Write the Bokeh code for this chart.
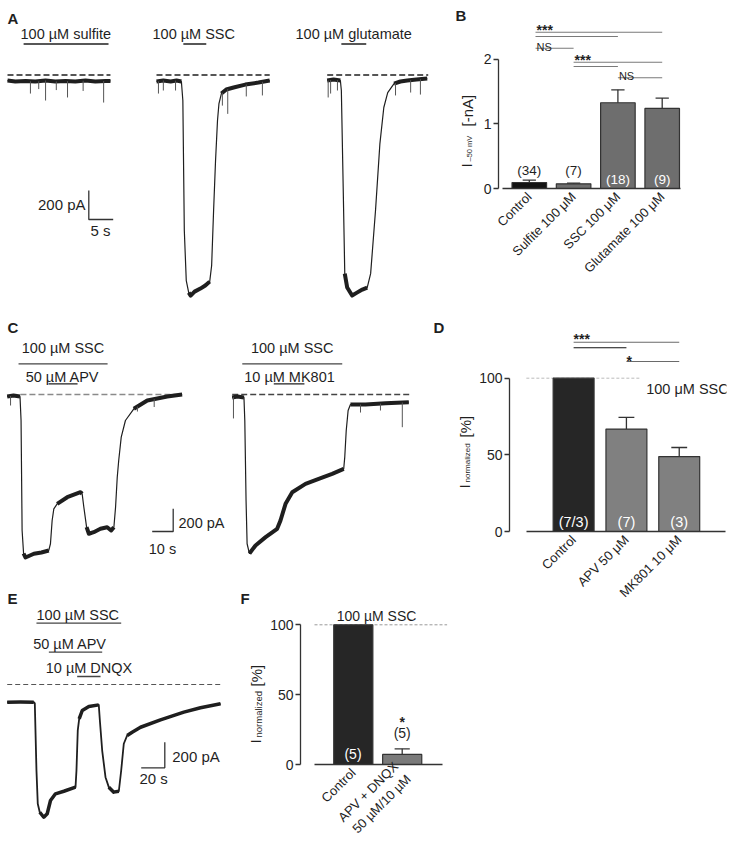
import math
import numpy as np
from bokeh.plotting import figure
from bokeh.models import Range1d, Label, FixedTicker
from bokeh.layouts import row, column
from bokeh.embed import file_html
from bokeh.resources import INLINE

FONT = "Liberation Sans"
INK = "#1f1f1f"
AX = "#333333"

# ======================= DATA =======================
# Panel A: whole-cell currents at -50 mV (time in s from sweep start, current in pA vs. holding level)
a_sulfite_t = [0, 1.6, 3.7, 5.7, 7.8, 9.8, 11.9, 13.9, 16.0, 18.0, 20.1, 21.1]
a_sulfite_i = [-38, -45, -41, -45, -38, -45, -41, -45, -38, -45, -41, -41]
a_sulfite_spike_t = [4.7, 6.4, 7.8, 10.0, 12.3, 15.5, 19.7]
a_sulfite_spike_i = [-128, -97, -176, -104, -155, -110, -190]

a_ssc_t = [0, 1.4, 2.9, 4.1, 5.1, 5.4, 5.7, 6.1, 6.6, 7.0, 7.8, 9.0, 10.0, 10.9, 11.3,
           11.7, 12.1, 12.5, 12.8, 13.3, 14.3, 15.8, 18.2, 20.9, 23.2]
a_ssc_i = [-45, -38, -45, -38, -45, -176, -1073, -1418, -1501, -1521, -1494, -1473, -1452,
           -1425, -1314, -935, -590, -314, -197, -128, -100, -86, -66, -52, -38]
a_ssc_spike_t = [0.4, 1.4, 3.9, 13.5, 14.6, 18.4, 21.7]
a_ssc_spike_i = [-128, -107, -107, -211, -268, -148, -141]

a_glu_t = [0, 1.3, 2.7, 2.9, 3.3, 3.6, 4.1, 5.1, 6.1, 7.2, 8.2, 8.9, 9.9, 10.8, 11.6,
           12.4, 13.7, 15.0, 16.4, 18.3, 20.5]
a_glu_i = [-38, -31, -38, -107, -818, -1370, -1466, -1521, -1501, -1480, -1466, -1370,
           -935, -473, -224, -121, -59, -45, -38, -31, -24]
a_glu_spike_t = [0.2, 0.7, 2.1, 14.0, 17.1, 19.1]
a_glu_spike_i = [-155, -128, -107, -141, -121, -135]

a_labels = ["100 \u00b5M sulfite", "100 \u00b5M SSC", "100 \u00b5M glutamate"]
a_app = [(3.3, 20.7), (5.5, 10.2), (2.9, 8.0)]          # application windows (s)
a_base = [(0, 21.1), (0, 23.2), (0, 20.7)]               # dashed zero-current lines (s)

# Panel B: mean current at -50 mV (-nA)
b_cats = ["Control", "Sulfite 100 \u03bcM", "SSC 100 \u03bcM", "Glutamate 100 \u03bcM"]
b_mean = [0.093, 0.073, 1.325, 1.237]
b_sem = [0.037, 0.010, 0.200, 0.160]
b_n = ["(34)", "(7)", "(18)", "(9)"]
b_sig_pairs = [(0, 3), (0, 2), (0, 1), (1, 3), (1, 2), (2, 3)]
b_sig_text = ["***", "", "NS", "***", "", "NS"]

# Panel C: SSC + APV and SSC + MK801 sweeps
c_apv_t = [0, 3.0, 6.1, 6.6, 7.1, 7.8, 8.7, 12.7, 16.3, 19.8, 20.6, 21.4, 22.2, 23.8, 28.6,
           34.9, 35.7, 36.5, 37.8, 38.9, 41.2, 44.4, 47.6, 49.5, 50.8, 51.6, 52.4, 53.1,
           54.3, 56.3, 60.3, 66.7, 76.2, 83.3]
c_apv_i = [-18, -9, -18, -229, -1198, -1401, -1436, -1403, -1392, -1374, -1315, -1110, -1007,
           -963, -905, -861, -875, -993, -1169, -1227, -1213, -1183, -1169, -1198, -1169,
           -993, -729, -581, -376, -229, -126, -53, -18, 0]
c_apv_spike_t = [1.6, 62.0, 70.0]
c_apv_spike_i = [-97, -150, -110]

c_mk_t = [0, 2.5, 5.6, 6.0, 6.6, 7.1, 8.2, 11.1, 15.9, 21.4, 23.0, 25.4, 28.6, 34.9, 41.2,
          47.6, 53.1, 53.6, 54.3, 55.2, 56.3, 63.5, 73.0, 84.1]
c_mk_i = [-26, -18, -26, -229, -934, -1315, -1401, -1330, -1257, -1183, -1110, -963, -861,
          -787, -743, -699, -655, -552, -317, -141, -88, -88, -77, -68]
c_mk_spike_t = [0.6, 61.1, 70.6, 81.0]
c_mk_spike_i = [-211, -159, -141, -288]

c_labels = [("100 \u00b5M SSC", "50 \u00b5M APV"), ("100 \u00b5M SSC", "10 \u00b5M MK801")]
c_app = [((5.4, 47.8), (19.7, 33.5)), ((4.8, 52.4), (19.8, 34.4))]
c_base = [(6.3, 83.3), (0, 84.9)]

# Panel D: normalized SSC current (%)
d_cats = ["Control", "APV 50 \u03bcM", "MK801 10 \u03bcM"]
d_mean = [100, 66.8, 48.9]
d_sem = [0, 7.6, 5.9]
d_n = ["(7/3)", "(7)", "(3)"]

# Panel E: SSC + APV + DNQX sweep
e_t = [0, 11.3, 22.5, 23.4, 24.8, 25.9, 27.6, 31.0, 33.9, 36.7, 40.9, 48.0, 57.9, 58.7,
       59.8, 61.0, 63.6, 69.2, 77.6, 78.5, 80.5, 83.3, 86.1, 90.3, 94.6, 96.6, 98.8, 101.7,
       105.9, 113.0, 129.9, 149.7, 163.8, 180.8]
e_i = [-138, -137, -138, -148, -672, -932, -998, -1037, -1010, -906, -854, -834, -802, -672,
       -359, -268, -203, -172, -159, -277, -516, -724, -802, -841, -834, -672, -463, -398,
       -373, -334, -276, -216, -182, -151]
e_labels = ["100 \u00b5M SSC", "50 \u00b5M APV", "10 \u00b5M DNQX"]
e_app = [(24.8, 96.6), (35.3, 80.5), (59.3, 79.1)]
e_base = (0, 180.8)

# Panel F: normalized SSC current (%)
f_cats = ["Control", "APV + DNQX\n50 \u00b5M/10 \u00b5M"]
f_mean = [100, 7.2]
f_sem = [0, 4.0]
f_n = ["(5)", "(5)"]


# ======================= LAYOUT HELPERS =======================
class Geo:
    """Maps reference-pixel positions to a figure's data units."""
    def __init__(self, box, frame, xr0, xpx, yr0, ypx):
        self.box, self.frame = box, frame
        self.xr0, self.xpx, self.yr0, self.ypx = xr0, xpx, yr0, ypx

    def dx(self, rx):
        return (rx - self.xr0) / self.xpx

    def dy(self, ry):
        return (self.yr0 - ry) / self.ypx


def make_fig(g, axes=False):
    bl, bt, br, bb = g.box
    fl, ft, fr, fb = g.frame
    kw = dict(width=br - bl, height=bb - bt, output_backend="svg", toolbar_location=None,
              x_range=Range1d(g.dx(fl), g.dx(fr)), y_range=Range1d(g.dy(fb), g.dy(ft)),
              min_border_left=fl - bl, min_border_right=br - fr,
              min_border_top=ft - bt, min_border_bottom=bb - fb,
              background_fill_color="white", border_fill_color="white",
              outline_line_color=None, frame_align=False)
    if not axes:
        kw.update(x_axis_type=None, y_axis_type=None)
    p = figure(**kw)
    p.grid.visible = False
    return p


def txt(p, g, rx, ry, s, size=14.5, align="left", base="middle", color=INK,
        bold=False, angle=0.0):
    p.add_layout(Label(x=g.dx(rx), y=g.dy(ry), text=s, text_font=FONT,
                       text_font_size=f"{size}px", text_align=align, text_baseline=base,
                       text_color=color, text_font_style="bold" if bold else "normal",
                       angle=angle))


def trace(p, t, i, t0, noisy, sp_t, sp_i, lw, band, color=INK):
    x = [v + t0 for v in t]
    for a, b in noisy:
        p.line(x[a:b + 1], i[a:b + 1], line_color=color, line_width=band, line_join="round")
    p.line(x, i, line_color=color, line_width=lw, line_join="round")
    if sp_t:
        base = list(np.interp(sp_t, t, i))
        xs = [v + t0 for v in sp_t]
        p.segment(x0=xs, y0=base, x1=xs, y1=sp_i, line_color="#555555", line_width=1)


def hbar(p, g, t_from, t_to, t0, ry, lw=1.5, color=INK):
    p.segment(x0=[t_from + t0], y0=[g.dy(ry)], x1=[t_to + t0], y1=[g.dy(ry)],
              line_color=color, line_width=lw)


def zero_line(p, t_from, t_to, t0, color, dash="6 3", lw=1.4):
    p.segment(x0=[t_from + t0], y0=[0], x1=[t_to + t0], y1=[0],
              line_color=color, line_width=lw, line_dash=dash)


def scalebar(p, g, crx, cry, t_len, i_len, hdir):
    cx, cy = g.dx(crx), g.dy(cry)
    p.line([cx + hdir * t_len, cx, cx], [cy, cy, cy + i_len], line_color=AX, line_width=1.3)


def bar_axes(p, labels, yticks, ybounds, xbounds, lab_size="13px"):
    yax = p.yaxis[0]
    yax.ticker = FixedTicker(ticks=yticks)
    yax.bounds = ybounds
    yax.axis_line_color = AX
    yax.axis_line_width = 1.3
    yax.major_tick_line_color = AX
    yax.major_tick_line_width = 1.3
    yax.major_tick_in = 0
    yax.major_tick_out = 5
    yax.minor_tick_line_color = None
    yax.major_label_text_font = FONT
    yax.major_label_text_font_size = "14px"
    yax.major_label_text_color = INK
    yax.major_label_standoff = 2
    xax = p.xaxis[0]
    ticks = list(range(len(labels)))
    xax.ticker = FixedTicker(ticks=ticks)
    xax.major_label_overrides = {k: v for k, v in zip(ticks, labels)}
    xax.bounds = xbounds
    xax.axis_line_color = AX
    xax.axis_line_width = 1.3
    xax.major_tick_line_color = None
    xax.major_tick_in = 0
    xax.major_tick_out = 0
    xax.minor_tick_line_color = None
    xax.major_label_orientation = math.pi / 4
    xax.major_label_standoff = 6
    xax.major_label_text_font = FONT
    xax.major_label_text_font_size = lab_size
    xax.major_label_text_color = INK


def bars(p, mean, sem, colors, width, cap):
    xs = list(range(len(mean)))
    p.vbar(x=xs, top=mean, bottom=0, width=width, fill_color=colors,
           line_color=AX, line_width=1.2)
    ex = [x for x, s in zip(xs, sem) if s > 0]
    lo = [m for m, s in zip(mean, sem) if s > 0]
    hi = [m + s for m, s in zip(mean, sem) if s > 0]
    p.segment(x0=ex, y0=lo, x1=ex, y1=hi, line_color=AX, line_width=1.3)
    p.segment(x0=[x - cap for x in ex], y0=hi, x1=[x + cap for x in ex], y1=hi,
              line_color=AX, line_width=1.3)


def ylabel(p, g, rx, ry_bottom, sub, tail, sub_size, gap):
    # rotated "I_sub [unit]" label, reading bottom to top
    txt(p, g, rx, ry_bottom, "I", size=15, base="alphabetic", angle=math.pi / 2)
    txt(p, g, rx + 2.5, ry_bottom - 6, sub, size=sub_size, base="alphabetic", angle=math.pi / 2)
    txt(p, g, rx + 1, ry_bottom - gap, tail, size=15, base="alphabetic", angle=math.pi / 2)


# ======================= PANEL A =======================
gA = Geo(box=(0, 0, 478, 312), frame=(0, 0, 478, 312), xr0=7, xpx=4.88, yr0=74.5, ypx=0.145)
pA = make_fig(gA)
a_offsets = [0, (156 - 7) / 4.88, (326.7 - 7) / 4.88]
a_traces = [
    (a_sulfite_t, a_sulfite_i, [(0, 11)], a_sulfite_spike_t, a_sulfite_spike_i),
    (a_ssc_t, a_ssc_i, [(0, 4), (8, 13), (19, 24)], a_ssc_spike_t, a_ssc_spike_i),
    (a_glu_t, a_glu_i, [(0, 2), (5, 10), (16, 20)], a_glu_spike_t, a_glu_spike_i),
]
a_text_left = [20, 152, 295]
for k, (t, i, nz, st, si) in enumerate(a_traces):
    t0 = a_offsets[k]
    zero_line(pA, a_base[k][0], a_base[k][1], t0, INK, "6 3", 1.5)
    trace(pA, t, i, t0, nz, st, si, 1.2, 4)
    hbar(pA, gA, a_app[k][0], a_app[k][1], t0, 43.5)
    txt(pA, gA, a_text_left[k], 33, a_labels[k])
scalebar(pA, gA, 88.3, 219, 5, 200, +1)
txt(pA, gA, 85, 204, "200 pA", size=15, align="right")
txt(pA, gA, 90, 230, "5 s", size=15)
txt(pA, gA, 7, 17.5, "A", size=15, bold=True)
# panel B letter and y-axis title live in the free margin left of panel B
txt(pA, gA, 455, 15, "B", size=15, bold=True)
ylabel(pA, gA, 466, 167, "\u201350 mV", "[-nA]", 7.5, 41)

# ======================= PANEL B =======================
gB = Geo(box=(478, 0, 740, 312), frame=(498, 20, 692, 188), xr0=528.8, xpx=44.3, yr0=188, ypx=64.7)
pB = make_fig(gB, axes=True)
bar_axes(pB, b_cats, [0, 1, 2], (0, 2), (gB.dx(501.7), gB.dx(680)))
bars(pB, b_mean, b_sem, ["#141414", "#6e6e6e", "#6e6e6e", "#6e6e6e"], 0.78, 0.15)
b_sig_y = [31.7, 36, 47.7, 61.7, 66, 77.3]
for (a, b), s, ry in zip(b_sig_pairs, b_sig_text, b_sig_y):
    x0 = a + (0.14 if a == 0 else 0)
    pB.segment(x0=[x0], y0=[gB.dy(ry)], x1=[b], y1=[gB.dy(ry)], line_color="#7a7a7a", line_width=1.1)
    if s == "***":
        txt(pB, gB, gB.xr0 + x0 * gB.xpx + 1, ry - 2.5, s, size=14, bold=True, base="alphabetic")
    elif s == "NS":
        txt(pB, gB, gB.xr0 + x0 * gB.xpx + 1, ry - 1.5, s, size=11, base="alphabetic")
for k, s in enumerate(b_n):
    inside = b_mean[k] > 0.5
    txt(pB, gB, gB.xr0 + k * gB.xpx, 178.5 if inside else 170, s, size=13.5, align="center",
        color="white" if inside else INK)

# ======================= PANEL C =======================
gC = Geo(box=(0, 312, 476, 588), frame=(0, 312, 476, 588), xr0=6.7, xpx=2.1, yr0=394, ypx=0.1135)
pC = make_fig(gC)
c_offsets = [0, (231.7 - 6.7) / 2.1]
c_traces = [
    (c_apv_t, c_apv_i, [(0, 2), (5, 9), (13, 16), (18, 24), (30, 33)], c_apv_spike_t, c_apv_spike_i),
    (c_mk_t, c_mk_i, [(0, 2), (6, 16), (20, 23)], c_mk_spike_t, c_mk_spike_i),
]
c_base_col = ["#8a8a8a", "#444444"]
c_text_cx = [(62.5, 62), (291.7, 289)]
for k, (t, i, nz, st, si) in enumerate(c_traces):
    t0 = c_offsets[k]
    zero_line(pC, c_base[k][0], c_base[k][1], t0, c_base_col[k], "6 3", 1.3)
    trace(pC, t, i, t0, nz, st, si, 1.2, 4)
    hbar(pC, gC, c_app[k][0][0], c_app[k][0][1], t0, 363.3, lw=1.3, color="#444444")
    hbar(pC, gC, c_app[k][1][0], c_app[k][1][1], t0, 383.3, lw=1.3, color=INK)
    txt(pC, gC, c_text_cx[k][0], 347.5, c_labels[k][0], align="center")
    txt(pC, gC, c_text_cx[k][1], 376, c_labels[k][1], align="center")
scalebar(pC, gC, 172.7, 531, 10, 200, -1)
txt(pC, gC, 178, 522.5, "200 pA")
txt(pC, gC, 148.3, 548, "10 s")
txt(pC, gC, 7, 327, "C", size=15, bold=True)
txt(pC, gC, 433, 327, "D", size=15, bold=True)
ylabel(pC, gC, 464, 488, "normalized", "[%]", 8, 51)

# ======================= PANEL D =======================
gD = Geo(box=(476, 312, 740, 862), frame=(507, 320, 726, 531), xr0=571.7, xpx=53.3, yr0=531, ypx=1.533)
pD = make_fig(gD, axes=True)
bar_axes(pD, d_cats, [0, 50, 100], (0, 100), (gD.dx(524), gD.dx(725)))
pD.segment(x0=[gD.dx(524)], y0=[100], x1=[gD.dx(640)], y1=[100], line_color="#bbbbbb",
           line_width=1, line_dash="3 2")
bars(pD, d_mean, d_sem, ["#262626", "#808080", "#808080"], 0.775, 0.15)
pD.segment(x0=[0], y0=[gD.dy(341.7)], x1=[2], y1=[gD.dy(341.7)], line_color="#6a6a6a", line_width=1.1)
pD.segment(x0=[0], y0=[gD.dy(347.3)], x1=[1], y1=[gD.dy(347.3)], line_color="#111111", line_width=1.1)
pD.segment(x0=[1], y0=[gD.dy(361)], x1=[2], y1=[gD.dy(361)], line_color="#6a6a6a", line_width=1.1)
txt(pD, gD, 571.7, 338.5, "***", size=14, bold=True, base="alphabetic")
txt(pD, gD, 625, 360, "*", size=14, bold=True, base="alphabetic")
for k, s in enumerate(d_n):
    txt(pD, gD, gD.xr0 + k * gD.xpx, 521.5, s, size=14.5, align="center", color="white")
txt(pD, gD, 645, 388.5, "100 \u03bcM SSC")

# ======================= PANEL E =======================
gE = Geo(box=(0, 588, 267, 862), frame=(0, 588, 267, 862), xr0=6.7, xpx=1.18, yr0=684, ypx=0.128)
pE = make_fig(gE)
zero_line(pE, e_base[0], e_base[1], 0, "#555555", "5 3", 1.2)
trace(pE, e_t, e_i, 0, [(0, 2), (6, 12), (15, 18), (22, 24), (27, 33)], [], [], 1.8, 3.5)
e_rows = [622.7, 651.7, 676]
e_text = [(77.3, 614), (69.5, 643), (88.5, 667.5)]
for k in range(3):
    hbar(pE, gE, e_app[k][0], e_app[k][1], 0, e_rows[k], lw=1.3, color="#444444")
    txt(pE, gE, e_text[k][0], e_text[k][1], e_labels[k], align="center")
scalebar(pE, gE, 164.3, 767.3, 20, 200, -1)
txt(pE, gE, 171.7, 756, "200 pA", size=15)
txt(pE, gE, 139, 778.3, "20 s", size=15)
txt(pE, gE, 7, 598, "E", size=15, bold=True)
txt(pE, gE, 240, 598, "F", size=15, bold=True)
ylabel(pE, gE, 255, 743, "normalized", "[%]", 9.5, 57)

# ======================= PANEL F =======================
gF = Geo(box=(267, 588, 476, 862), frame=(300, 600, 447, 764), xr0=352.8, xpx=48.9, yr0=764, ypx=1.397)
pF = make_fig(gF, axes=True)
bar_axes(pF, f_cats, [0, 50, 100], (0, 100), (gF.dx(314), gF.dx(441.7)))
pF.segment(x0=[gF.dx(314)], y0=[100], x1=[gF.dx(446.7)], y1=[100], line_color="#999999",
           line_width=1, line_dash="3 2")
bars(pF, f_mean, f_sem, ["#262626", "#7a7a7a"], 0.8, 0.155)
txt(pF, gF, 352.5, 753.3, f_n[0], size=14, align="center", color="white")
txt(pF, gF, 401.7, 732.7, f_n[1], size=14, align="center")
txt(pF, gF, 401.7, 721.5, "*", size=14, align="center", bold=True, base="alphabetic")
txt(pF, gF, 376, 615, "100 \u00b5M SSC", size=14, align="center")

layout = column(row(pA, pB), row(column(pC, row(pE, pF)), pD))
open("out.html", "w").write(file_html(layout, INLINE))
